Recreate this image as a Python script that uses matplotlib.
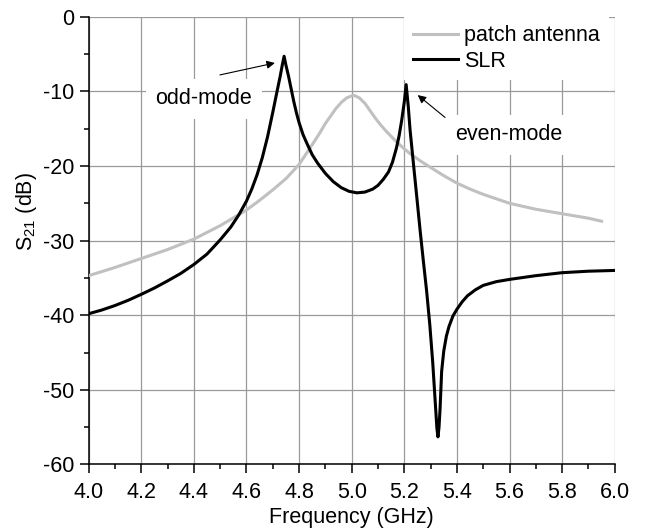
#S21 of the patch antenna and the SLR against frequency
import matplotlib
matplotlib.use('Agg')
import matplotlib.pyplot as plt
from matplotlib.ticker import MultipleLocator, FormatStrFormatter

plt.rcParams['font.family'] = ['Liberation Sans', 'DejaVu Sans']
plt.rcParams['mathtext.fontset'] = 'custom'
plt.rcParams['mathtext.rm'] = 'Liberation Sans'
plt.rcParams['axes.unicode_minus'] = False

# values
freq_patch = [4.0, 4.1, 4.2, 4.3, 4.4, 4.5, 4.6, 4.65, 4.7, 4.75, 4.8, 4.83, 4.86, 4.88, 4.9,
              4.92, 4.94, 4.96, 4.98, 5.0, 5.01, 5.03, 5.05, 5.07, 5.09, 5.11, 5.13, 5.16,
              5.19, 5.22, 5.26, 5.3, 5.35, 5.4, 5.45, 5.5, 5.6, 5.7, 5.8, 5.9, 5.95]
s21_patch = [-34.7, -33.6, -32.4, -31.2, -29.8, -28.0, -25.9, -24.6, -23.2, -21.7, -19.8, -18.2, -16.6, -15.5, -14.3,
             -13.3, -12.3, -11.5, -10.9, -10.6, -10.55, -10.9, -11.6, -12.6, -13.6, -14.5, -15.3, -16.4,
             -17.4, -18.3, -19.3, -20.2, -21.3, -22.3, -23.1, -23.8, -25.0, -25.8, -26.4, -27.0, -27.4]

freq_slr = [4.0, 4.05, 4.1, 4.15, 4.2, 4.25, 4.3, 4.35, 4.4, 4.45, 4.5, 4.54, 4.57, 4.6, 4.62,
            4.64, 4.66, 4.68, 4.70, 4.715, 4.728, 4.737, 4.743, 4.75, 4.76, 4.77, 4.78, 4.79,
            4.80, 4.815, 4.83, 4.85, 4.87, 4.9, 4.93, 4.96, 4.99, 5.02, 5.05, 5.08, 5.1, 5.12,
            5.14, 5.155, 5.17, 5.18, 5.19, 5.2, 5.207, 5.215, 5.222, 5.235, 5.247, 5.26, 5.272,
            5.285, 5.297, 5.308, 5.317, 5.324, 5.328, 5.332, 5.336, 5.342, 5.35, 5.36,
            5.37, 5.385, 5.4, 5.42, 5.44, 5.47, 5.5, 5.55, 5.6, 5.7, 5.8, 5.9, 6.0]
s21_slr = [-39.8, -39.3, -38.7, -38.0, -37.2, -36.35, -35.4, -34.4, -33.2, -31.8, -29.9, -28.2, -26.6, -24.7, -23.1,
           -21.2, -18.9, -16.1, -12.8, -10.2, -8.0, -6.3, -5.3, -6.5, -8.0, -9.7, -11.4, -12.9,
           -14.2, -15.8, -17.0, -18.5, -19.6, -21.0, -22.1, -22.9, -23.4, -23.6, -23.5, -23.1, -22.6, -21.8,
           -20.8, -19.5, -17.6, -16.0, -13.9, -11.4, -9.1, -12.0, -15.2, -19.8, -24.0, -28.6, -32.6,
           -36.8, -41.3, -46.3, -51.3, -55.2, -56.3, -55.0, -52.5, -47.5, -44.8, -42.8,
           -41.5, -40.1, -39.2, -38.2, -37.4, -36.6, -36.0, -35.5, -35.2, -34.7, -34.3, -34.1, -34.0]

fs = 15.5

fig = plt.figure(figsize=(6.55, 5.32), dpi=100)
ax = fig.add_axes([0.1354, 0.1269, 0.8031, 0.8417])

ax.plot(freq_patch, s21_patch, color='#c0c0c0', lw=2.2, label='patch antenna', zorder=3)
ax.plot(freq_slr, s21_slr, color='black', lw=2.2, label='SLR', zorder=4)

ax.set_xlim(4.0, 6.0)
ax.set_ylim(-60, 0)
ax.xaxis.set_major_locator(MultipleLocator(0.2))
ax.xaxis.set_minor_locator(MultipleLocator(0.1))
ax.yaxis.set_major_locator(MultipleLocator(10))
ax.yaxis.set_minor_locator(MultipleLocator(5))
ax.xaxis.set_major_formatter(FormatStrFormatter('%.1f'))
ax.grid(True, which='major', color='#9a9a9a', lw=0.9, zorder=0)
ax.set_axisbelow(True)

for s in ['top', 'right']:
    ax.spines[s].set_visible(False)
for s in ['left', 'bottom']:
    ax.spines[s].set_linewidth(1.1)
ax.tick_params(which='major', direction='out', length=6.5, width=1.1, labelsize=fs, pad=6)
ax.tick_params(which='minor', direction='out', length=3.6, width=1.1)
ax.tick_params(axis='y', which='major', pad=4)

ax.set_xlabel('Frequency (GHz)', fontsize=fs, labelpad=3)
ax.set_ylabel(r'$\mathregular{S_{21}}$ (dB)', fontsize=fs)
ax.yaxis.set_label_coords(-0.095, 0.566)

leg = ax.legend(loc='upper left', bbox_to_anchor=(0.5995, 1.0), borderaxespad=0,
                borderpad=0.4, handlelength=2.1, handletextpad=0.3, labelspacing=0.2,
                fontsize=fs, frameon=True, fancybox=False)
leg.get_frame().set_facecolor('white')
leg.get_frame().set_edgecolor('none')
leg.get_frame().set_alpha(1)
leg.set_zorder(5)

# mode labels with arrows
box = dict(boxstyle='square,pad=0.45', fc='white', ec='none')
ax.text(4.438, -11.0, 'odd-mode', fontsize=fs, ha='center', va='center', bbox=box, zorder=2)
ax.text(5.598, -15.85, 'even-mode', fontsize=fs, ha='center', va='center', bbox=box, zorder=2)
arrow = dict(arrowstyle='-|>', color='black', lw=0.8, mutation_scale=12, shrinkA=0, shrinkB=0)
ax.annotate('', xy=(4.708, -6.2), xytext=(4.499, -7.8), arrowprops=arrow, zorder=6)
ax.annotate('', xy=(5.251, -10.5), xytext=(5.355, -13.5), arrowprops=arrow, zorder=6)

plt.savefig('out.png', dpi=100)
